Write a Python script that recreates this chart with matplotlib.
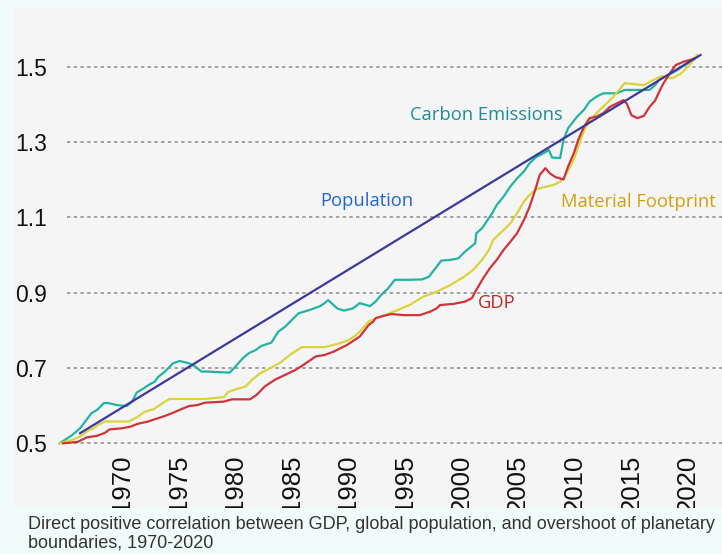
import matplotlib
matplotlib.use('Agg')
import matplotlib.pyplot as plt

# Datos (anio, indice)
carbon_x = [1964.5, 1965.6, 1966.3, 1966.9, 1967.3, 1967.8, 1968.4, 1968.8, 1969.5, 1970.4,
            1970.9, 1971.3, 1971.9, 1972.5, 1972.9, 1973.2, 1973.8, 1974.5, 1975.1, 1975.9,
            1976.5, 1977.0, 1977.5, 1979.5, 1979.8, 1980.6, 1981.2, 1981.8, 1982.3, 1983.2,
            1983.8, 1984.4, 1985.0, 1985.6, 1986.6, 1987.5, 1987.9, 1988.2, 1988.5, 1989.0,
            1989.6, 1990.4, 1991.0, 1991.9, 1992.4, 1992.9, 1993.5, 1994.1, 1995.4, 1996.5,
            1997.1, 1997.7, 1998.2, 1999.0, 1999.7, 2000.3, 2001.2, 2001.3, 2001.8, 2002.2,
            2002.7, 2003.1, 2003.7, 2004.3, 2004.9, 2005.5, 2006.0, 2006.6, 2007.2, 2007.7,
            2008.0, 2008.7, 2009.0, 2009.4, 2010.2, 2010.8, 2011.3, 2011.9, 2012.5, 2013.7,
            2014.4, 2016.6, 2017.1, 2017.5, 2018.1, 2019.0, 2019.7, 2020.2, 2020.5]
carbon_y = [0.499, 0.521, 0.539, 0.563, 0.579, 0.588, 0.606, 0.606, 0.601, 0.598,
            0.610, 0.634, 0.645, 0.657, 0.663, 0.676, 0.690, 0.712, 0.718, 0.712,
            0.703, 0.690, 0.690, 0.687, 0.696, 0.723, 0.739, 0.747, 0.758, 0.767,
            0.796, 0.809, 0.827, 0.845, 0.854, 0.864, 0.872, 0.880, 0.872, 0.858,
            0.852, 0.858, 0.872, 0.864, 0.876, 0.894, 0.911, 0.934, 0.934, 0.935,
            0.942, 0.965, 0.985, 0.987, 0.991, 1.009, 1.031, 1.058, 1.071, 1.089,
            1.111, 1.133, 1.155, 1.182, 1.204, 1.222, 1.244, 1.261, 1.270, 1.279,
            1.259, 1.258, 1.306, 1.337, 1.368, 1.386, 1.408, 1.421, 1.430, 1.430,
            1.439, 1.439, 1.452, 1.468, 1.476, 1.491, 1.505, 1.514, 1.523]

material_x = [1964.5, 1965.6, 1966.4, 1967.0, 1967.5, 1967.9, 1968.5, 1970.6, 1971.3, 1972.0,
              1972.8, 1973.2, 1973.8, 1974.2, 1977.3, 1979.0, 1979.4, 1980.1, 1980.9, 1981.5,
              1982.2, 1983.1, 1984.0, 1984.8, 1985.9, 1987.9, 1989.0, 1989.9, 1990.6, 1991.0,
              1991.8, 1992.8, 1994.0, 1995.4, 1996.6, 1997.8, 1999.0, 2000.2, 2001.0, 2001.8,
              2002.4, 2002.8, 2003.4, 2003.7, 2004.3, 2004.9, 2005.5, 2006.0, 2006.6, 2007.5,
              2008.1, 2008.7, 2009.1, 2009.6, 2010.0, 2010.5, 2010.9, 2011.5, 2012.2, 2012.8,
              2013.4, 2013.9, 2014.4, 2016.1, 2016.9, 2017.7, 2018.6, 2019.3, 2020.0, 2020.5,
              2020.8]
material_y = [0.499, 0.508, 0.519, 0.533, 0.539, 0.548, 0.557, 0.557, 0.568, 0.583,
              0.590, 0.598, 0.610, 0.617, 0.617, 0.622, 0.636, 0.643, 0.650, 0.668,
              0.685, 0.699, 0.714, 0.734, 0.755, 0.755, 0.763, 0.772, 0.785, 0.796,
              0.823, 0.836, 0.849, 0.867, 0.889, 0.902, 0.920, 0.942, 0.960, 0.987,
              1.013, 1.040, 1.058, 1.066, 1.084, 1.111, 1.142, 1.160, 1.175, 1.182,
              1.186, 1.195, 1.208, 1.235, 1.261, 1.306, 1.337, 1.364, 1.386, 1.403,
              1.421, 1.439, 1.457, 1.452, 1.465, 1.476, 1.470, 1.481, 1.501, 1.519,
              1.532]

gdp_x = [1964.8, 1966.1, 1966.9, 1967.8, 1968.5, 1968.9, 1970.0, 1970.7, 1971.4, 1972.3,
         1973.2, 1973.8, 1974.4, 1975.1, 1975.9, 1976.7, 1977.3, 1979.0, 1979.7, 1981.3,
         1981.9, 1982.6, 1983.5, 1984.4, 1985.3, 1986.0, 1987.1, 1987.9, 1988.7, 1989.9,
         1991.0, 1991.8, 1992.2, 1992.4, 1993.1, 1993.8, 1994.9, 1996.3, 1997.2, 1997.8,
         1998.1, 1999.3, 2000.3, 2000.9, 2001.3, 2001.9, 2002.5, 2003.1, 2003.7, 2004.3,
         2004.9, 2005.5, 2006.0, 2006.5, 2006.9, 2007.4, 2007.8, 2008.3, 2009.0, 2009.4,
         2009.9, 2010.3, 2010.8, 2011.3, 2011.9, 2012.5, 2013.1, 2013.7, 2014.3, 2014.6,
         2015.0, 2015.5, 2016.1, 2016.6, 2017.1, 2017.4, 2017.8, 2018.3, 2018.9, 2019.6,
         2020.2, 2020.6]
gdp_y = [0.499, 0.503, 0.515, 0.519, 0.527, 0.536, 0.539, 0.543, 0.551, 0.557,
         0.566, 0.572, 0.579, 0.588, 0.598, 0.601, 0.607, 0.610, 0.616, 0.616,
         0.628, 0.650, 0.668, 0.681, 0.694, 0.707, 0.730, 0.734, 0.743, 0.761,
         0.783, 0.814, 0.823, 0.832, 0.838, 0.843, 0.840, 0.840, 0.849, 0.858,
         0.867, 0.870, 0.876, 0.885, 0.907, 0.938, 0.965, 0.987, 1.013, 1.035,
         1.058, 1.093, 1.128, 1.173, 1.213, 1.231, 1.217, 1.207, 1.201, 1.235,
         1.270, 1.306, 1.341, 1.364, 1.368, 1.377, 1.394, 1.403, 1.412, 1.402,
         1.372, 1.364, 1.370, 1.394, 1.411, 1.431, 1.455, 1.479, 1.505, 1.514,
         1.519, 1.523]

population_x = [1966.3, 2021.1]
population_y = [0.526, 1.532]

year_ticks = [1970, 1975, 1980, 1985, 1990, 1995, 2000, 2005, 2010, 2015, 2020]
value_ticks = [0.5, 0.7, 0.9, 1.1, 1.3, 1.5]

caption = ('Direct positive correlation between GDP, global population, and overshoot of planetary\n'
           'boundaries, 1970-2020')

W, H = 722, 554
fig = plt.figure(figsize=(W / 100, H / 100), dpi=100, facecolor='#effcfa')

# Panel gris (coordenadas en pixeles del original)
ax = fig.add_axes([14 / W, 1 - 508 / H, 708 / W, 500 / H])
ax.set_facecolor('#f5f5f5')
for s in ax.spines.values():
    s.set_visible(False)

ax.set_xlim(1960.46, 2023.0)
ax.set_ylim(0.327, 1.657)

for v in value_ticks:
    ax.axhline(v, xmin=0.075, xmax=1, color='#8a8a8a', lw=1.1, ls=(0, (2.2, 2.2)), zorder=1)

ax.plot(carbon_x, carbon_y, color='#22b3a2', lw=1.6, zorder=3)
ax.plot(material_x, material_y, color='#d8d43c', lw=1.6, zorder=3)
ax.plot(gdp_x, gdp_y, color='#d0343a', lw=1.6, zorder=3)
ax.plot(population_x, population_y, color='#3a3a9a', lw=1.6, zorder=4)

# Etiquetas de series
lbl = dict(family=['Open Sans', 'DejaVu Sans'], fontsize=13.2, ha='center', va='center')
ax.text(2002.16, 1.372, 'Carbon Emissions', color='#1a8e9c', **lbl)
ax.text(1991.64, 1.144, 'Population', color='#2563d4', **lbl)
ax.text(2015.58, 1.141, 'Material Footprint', color='#d39f12', **lbl)
ax.text(2003.13, 0.872, 'GDP', color='#c0281c', **lbl)

# Ejes
ax.set_yticks(value_ticks)
ax.set_yticklabels([f'{v:.1f}' for v in value_ticks])
ax.tick_params(axis='y', length=0, pad=-23.8, labelsize=16.5, labelcolor='#111111')
ax.set_xticks(year_ticks)
ax.set_xticklabels([str(y) for y in year_ticks], rotation=90)
ax.tick_params(axis='x', length=0, pad=-38.5, labelsize=18.5, labelcolor='#111111')
for lab in ax.get_yticklabels() + ax.get_xticklabels():
    lab.set_family(['Liberation Sans', 'DejaVu Sans'])
for lab in ax.get_xticklabels():
    lab.set_va('top')
    lab.set_clip_on(True)
    lab.set_clip_box(ax.bbox)

fig.text(28 / W, 1 - 516 / H, caption, ha='left', va='top', fontsize=13,
         color='#333333', family=['Liberation Sans', 'DejaVu Sans'], linespacing=1.12)

fig.savefig('out.png', dpi=100, facecolor=fig.get_facecolor())
